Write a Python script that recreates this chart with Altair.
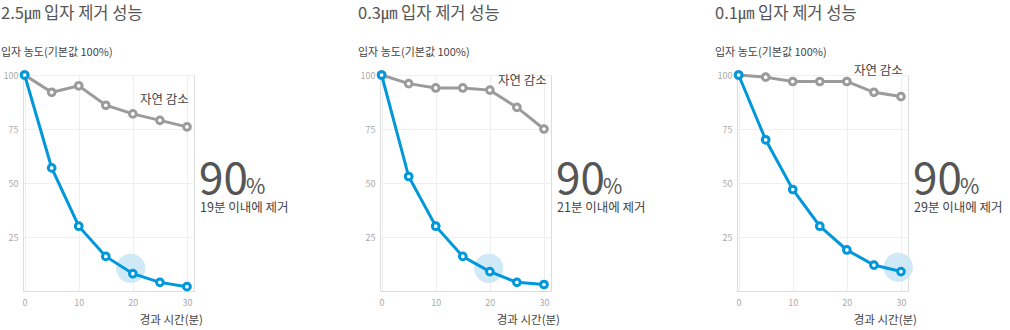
import altair as alt
import pandas as pd

# ---- data ----
minutes = [0, 5, 10, 15, 20, 25, 30]
titles = ["2.5㎛ 입자 제거 성능", "0.3㎛ 입자 제거 성능", "0.1㎛ 입자 제거 성능"]
purifier = [
    [100, 57, 30, 16, 8, 4, 2],
    [100, 53, 30, 16, 9, 4, 3],
    [100, 70, 47, 30, 19, 12, 9],
]
natural = [
    [100, 92, 95, 86, 82, 79, 76],
    [100, 96, 94, 94, 93, 85, 75],
    [100, 99, 97, 97, 97, 92, 90],
]
removal_text = ["19분 이내에 제거", "21분 이내에 제거", "29분 이내에 제거"]
highlight_x = [19.6, 19.8, 29.5]
highlight_y = [10.5, 10.5, 11.0]
natural_label = "자연 감소"
natural_label_x = [21.3, 21.5, 21.3]
natural_label_y = [88.5, 97.0, 102.0]
y_title = "입자 농도(기본값 100%)"
x_title = "경과 시간(분)"
big_value = "90"
big_unit = "%"

BLUE = "#0098db"
GRAY = "#9b9b9b"
FONT = "Noto Sans CJK KR"

W, H = 171, 216


def text_layer(txt, x, y, size, color="#444", align="left", baseline="middle", weight="normal"):
    return alt.Chart(pd.DataFrame({"label": [txt]})).mark_text(
        align=align, baseline=baseline, fontSize=size, color=color, font=FONT, fontWeight=weight
    ).encode(x=alt.value(x), y=alt.value(y), text="label:N")


def panel(i):
    xs = alt.Scale(domain=[-0.3, 31.3], nice=False, zero=False)
    ys = alt.Scale(domain=[0, 100], nice=False)
    x_axis = alt.Axis(
        values=minutes,
        labelExpr="datum.value % 10 == 0 ? datum.label : ''",
        grid=True, gridColor="#efefef", domainColor="#dddddd",
        ticks=False, labelColor="#aaaaaa", labelFontSize=9, labelPadding=7,
        labelFont=FONT, title=None,
    )
    y_axis = alt.Axis(
        values=[25, 50, 75, 100], grid=True, gridColor="#efefef", domain=False,
        ticks=False, labelColor="#aaaaaa", labelFontSize=9, labelPadding=5,
        labelFont=FONT, title=None,
    )
    dp = pd.DataFrame({"t": minutes, "v": purifier[i]})
    dn = pd.DataFrame({"t": minutes, "v": natural[i]})
    dh = pd.DataFrame({"t": [highlight_x[i]], "v": [highlight_y[i]]})
    dl = pd.DataFrame({"t": [natural_label_x[i]], "v": [natural_label_y[i]], "label": [natural_label]})

    enc = dict(x=alt.X("t:Q", scale=xs, axis=x_axis), y=alt.Y("v:Q", scale=ys, axis=y_axis))
    enc2 = dict(x=alt.X("t:Q", scale=xs), y=alt.Y("v:Q", scale=ys))

    grid = alt.Chart(dn).mark_point(opacity=0).encode(**enc)
    hl = alt.Chart(dh).mark_circle(size=850, color="#c8e5f6", opacity=0.85).encode(**enc2)
    nline = alt.Chart(dn).mark_line(color=GRAY, strokeWidth=3).encode(**enc2)
    npts = alt.Chart(dn).mark_point(fill="white", color=GRAY, strokeWidth=3, size=45, opacity=1).encode(**enc2)
    pline = alt.Chart(dp).mark_line(color=BLUE, strokeWidth=3).encode(**enc2)
    ppts = alt.Chart(dp).mark_point(fill="white", color=BLUE, strokeWidth=3, size=45, opacity=1).encode(**enc2)
    nlab = alt.Chart(dl).mark_text(align="left", baseline="middle", fontSize=12.5, color="#444", font=FONT).encode(
        text="label:N", **enc2)

    layers = [
        grid, hl, nline, npts, pline, ppts, nlab,
        text_layer(titles[i], -22, -61, 16.5, color="#555"),
        text_layer(y_title, -22, -22, 11),
        text_layer(x_title, 180, 246, 11.5, align="right"),
        text_layer(big_value, 176, 119, 44, color="#555", baseline="alphabetic"),
        text_layer(big_unit, 223, 119, 21, color="#555", baseline="alphabetic"),
        text_layer(removal_text[i], 177, 133, 12.5),
    ]
    if i == 0:
        anchor = alt.Chart(pd.DataFrame({"a": [0]})).mark_rule(strokeWidth=0, opacity=0).encode(
            x=alt.value(-22), x2=alt.value(-22), y=alt.value(-74), y2=alt.value(-74))
        layers.append(anchor)
    return alt.layer(*layers).properties(width=W, height=H)


chart = alt.hconcat(*[panel(i) for i in range(3)], spacing=186, bounds="flush").properties(
    padding=0
).configure_view(stroke=None).configure(font=FONT)

chart.save("out.html", embed_options={"renderer": "svg", "actions": False})
